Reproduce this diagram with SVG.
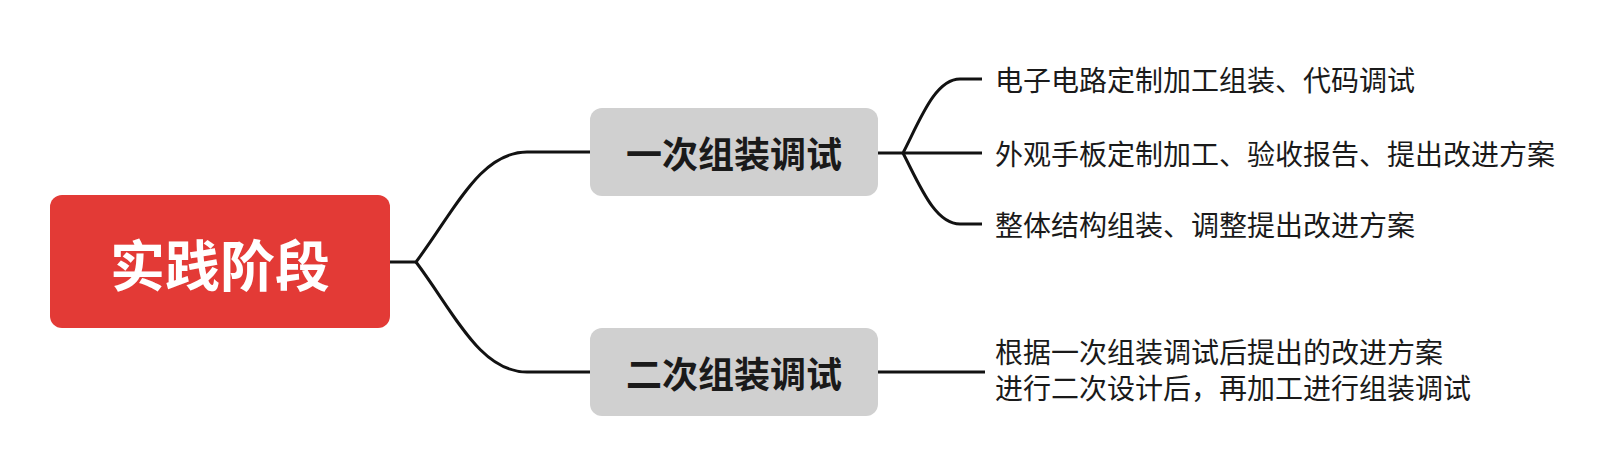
<svg xmlns="http://www.w3.org/2000/svg" width="1616" height="470" viewBox="0 0 1616 470">
<style>
.cjk{font-family:"Noto Sans CJK SC","Noto Sans",sans-serif;}
.root-t{font-size:55px;font-weight:700;fill:#ffffff;}
.mid-t{font-size:36px;font-weight:700;fill:#1a1a1a;}
.leaf-t{font-size:28px;font-weight:400;fill:#1a1a1a;}
.mid-box{fill:#d0d0d0;}
.conn{fill:none;stroke:#121212;stroke-width:3;stroke-linejoin:round;}
</style>
<rect width="1616" height="470" fill="#ffffff"/>
<g id="connectors">
<path class="conn" d="M390 262 H416 C455 210 480 152 527 152 H590"/>
<path class="conn" d="M416 262 C455 314 480 372 527 372 H590"/>
<path class="conn" d="M878 153 H903 C920 120 935 79 960 79 H982"/>
<path class="conn" d="M903 153 H982"/>
<path class="conn" d="M903 153 C920 186 935 224 960 224 H982"/>
<path class="conn" d="M878 372 H985"/>
</g>
<g id="root">
<rect x="50" y="195" width="340" height="133" rx="12" fill="#e33a36"/>
<text class="cjk root-t" x="220" y="262" text-anchor="middle" dominant-baseline="central">实践阶段</text>
</g>
<g id="n1">
<rect class="mid-box" x="590" y="108" width="288" height="88" rx="12"/>
<text class="cjk mid-t" x="734" y="152" text-anchor="middle" dominant-baseline="central">一次组装调试</text>
</g>
<g id="n2">
<rect class="mid-box" x="590" y="328" width="288" height="88" rx="12"/>
<text class="cjk mid-t" x="734" y="372" text-anchor="middle" dominant-baseline="central">二次组装调试</text>
</g>
<g id="leaf1">
<text class="cjk leaf-t" x="995" y="79" dominant-baseline="central">电子电路定制加工组装、代码调试</text>
</g>
<g id="leaf2">
<text class="cjk leaf-t" x="995" y="153" dominant-baseline="central">外观手板定制加工、验收报告、提出改进方案</text>
</g>
<g id="leaf3">
<text class="cjk leaf-t" x="995" y="224" dominant-baseline="central">整体结构组装、调整提出改进方案</text>
</g>
<g id="leaf4">
<text class="cjk leaf-t" x="995" y="363">根据一次组装调试后提出的改进方案<tspan x="995" dy="36">进行二次设计后，再加工进行组装调试</tspan></text>
</g>
</svg>
